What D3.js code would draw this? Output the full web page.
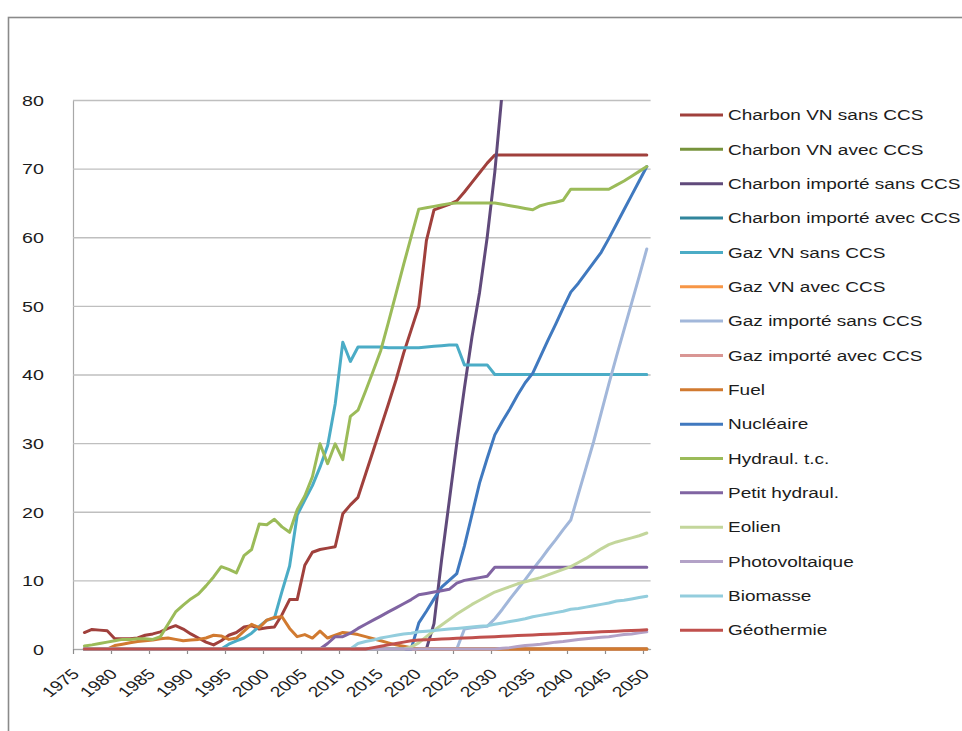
<!DOCTYPE html>
<html><head><meta charset="utf-8">
<script src="https://cdn.jsdelivr.net/npm/d3@7"></script>
<style>
body{margin:0;background:#fff}
svg{display:block}
text{font-family:"Liberation Sans",Arial,sans-serif;font-size:14.3px;fill:#1c1c1c}
</style></head><body>
<svg id="c" width="962" height="731"></svg>
<script>
// ---------- DATA ----------
const years = d3.range(1976, 2051); // categories 1976..2050
const xTickLabels = [1975,1980,1985,1990,1995,2000,2005,2010,2015,2020,2025,2030,2035,2040,2045,2050];
const yTickLabels = [0,10,20,30,40,50,60,70,80];

const seriesNames = ["Charbon VN sans CCS","Charbon VN avec CCS","Charbon importé sans CCS","Charbon importé avec CCS",
  "Gaz VN sans CCS","Gaz VN avec CCS","Gaz importé sans CCS","Gaz importé avec CCS","Fuel","Nucléaire",
  "Hydraul. t.c.","Petit hydraul.","Eolien","Photovoltaique","Biomasse","Géothermie"];
const seriesColors = ["#A0403C","#77933C","#604A7B","#31859C","#4BACC6","#F79646","#A2B7DA","#D99694",
  "#D17A30","#4079BF","#9BBB59","#8064A2","#C3D69B","#B3A2C7","#93CDDD","#C0504D"];

const charbonVNSans = [
 2.4,2.85,2.75,2.65,
 1.5,1.5,1.5,1.6,2.0,2.2,2.5,3.0,3.4,2.9,
 2.2,1.6,1.0,0.6,1.2,2.0,2.4,3.2,3.4,2.9,
 3.1,3.2,5.0,7.2,7.2,12.2,14.1,14.5,14.7,14.9,
 19.7,21.0,22.1,25.5,28.9,32.3,35.7,39.2,43.1,46.5,
 49.9,59.5,64.0,64.4,64.8,65.3,66.6,68.0,69.4,70.8,
 72,72,72,72,72,72,72,72,72,72,
 72,72,72,72,72,72,72,72,72,72,
 72];
const charbonVNAvec = [
 0,0,0,0,
 0,0,0,0,0,0,0,0,0,0,
 0,0,0,0,0,0,0,0,0,0,
 0,0,0,0,0,0,0,0,0,0,
 0,0,0,0,0,0,0,0,0,0,
 0,0,0,0,0,0,0,0,0,0,
 0,0,0,0,0,0,0,0,0,0,
 0,0,0,0,0,0,0,0,0,0,
 0];
const charbonImpSans = [
 0,0,0,0,
 0,0,0,0,0,0,0,0,0,0,
 0,0,0,0,0,0,0,0,0,0,
 0,0,0,0,0,0,0,0,0,0,
 0,0,0,0,0,0,0,0,0,0,
 0,0,3.7,13.0,21.5,30.0,38.0,45.5,52.0,60.0,
 69.5,81.5];
const charbonImpAvec = [
 0,0,0,0,
 0,0,0,0,0,0,0,0,0,0,
 0,0,0,0,0,0,0,0,0,0,
 0,0,0,0,0,0,0,0,0,0,
 0,0,0,0,0,0,0,0,0,0,
 0,0,0,0,0,0,0,0,0,0,
 0,0,0,0,0,0,0,0,0,0,
 0,0,0,0,0,0,0,0,0,0,
 0];
const gazVNSans = [
 0,0,0,0,
 0,0,0,0,0,0,0,0,0,0,
 0,0,0,0,0,0.7,1.2,1.6,2.3,3.3,
 4.2,4.5,8.4,12.1,19.5,21.7,23.8,26.5,29.6,35.7,
 44.7,41.9,44.0,44.0,44.0,44.0,43.9,43.9,43.9,43.9,
 43.9,44.0,44.1,44.2,44.3,44.3,41.4,41.4,41.4,41.4,
 40,40,40,40,40,40,40,40,40,40,
 40,40,40,40,40,40,40,40,40,40,
 40];
const gazVNAvec = [
 0,0,0,0,
 0,0,0,0,0,0,0,0,0,0,
 0,0,0,0,0,0,0,0,0,0,
 0,0,0,0,0,0,0,0,0,0,
 0,0,0,0,0,0,0,0,0,0,
 0,0,0,0,0,0,0,0,0,0,
 0,0,0,0,0,0,0,0,0,0,
 0,0,0,0,0,0,0,0,0,0,
 0];
const gazImpSans = [
 0,0,0,0,
 0,0,0,0,0,0,0,0,0,0,
 0,0,0,0,0,0,0,0,0,0,
 0,0,0,0,0,0,0,0,0,0,
 0,0,0,0,0,0,0,0,0,0,
 0,0,0,0,0,0,2.9,3.1,3.2,3.3,
 4.4,5.8,7.3,8.7,10.1,11.6,13.0,14.5,15.9,17.4,
 18.8,22.6,26.4,30.2,34.4,38.6,42.6,46.5,50.4,54.3,
 58.3];
const gazImpAvec = [
 0,0,0,0,
 0,0,0,0,0,0,0,0,0,0,
 0,0,0,0,0,0,0,0,0,0,
 0,0,0,0,0,0,0,0,0,0,
 0,0,0,0,0,0,0,0,0,0,
 0,0,0,0,0,0,0,0,0,0,
 0,0,0,0,0,0,0,0,0,0,
 0,0,0,0,0,0,0,0,0,0,
 0];
const fuel = [
 0,0,0,0,
 0.5,0.7,0.9,1.1,1.2,1.3,1.5,1.6,1.4,1.2,
 1.3,1.4,1.6,2.0,1.9,1.4,1.6,2.6,3.6,3.1,
 4.2,4.6,4.7,3.0,1.8,2.1,1.6,2.6,1.6,2.0,
 2.4,2.3,2.1,1.8,1.5,1.2,0.9,0.6,0.4,0.2,
 0,0,0,0,0,0,0,0,0,0,
 0,0,0,0,0,0,0,0,0,0,
 0,0,0,0,0,0,0,0,0,0,
 0];
const nucleaire = [
 0,0,0,0,
 0,0,0,0,0,0,0,0,0,0,
 0,0,0,0,0,0,0,0,0,0,
 0,0,0,0,0,0,0,0,0,0,
 0,0,0,0,0,0,0,0,0,0,
 3.8,5.5,7.3,9.0,10.0,11.0,15.0,19.6,24.2,27.8,
 31.2,33.2,35.0,37.0,38.8,40.2,42.6,45.0,47.3,49.7,
 52.0,53.3,54.8,56.3,57.8,59.8,61.9,64.0,66.1,68.2,
 70.3];
const hydraulTC = [
 0.45,0.6,0.8,1.0,
 1.2,1.4,1.4,1.5,1.5,1.4,1.8,3.6,5.4,6.4,
 7.3,8.0,9.2,10.5,12.0,11.6,11.1,13.6,14.5,18.2,
 18.1,18.9,17.8,17.0,20.3,22.3,25.1,29.9,27.0,29.9,
 27.6,33.9,34.8,37.6,40.5,43.5,47.6,51.8,56.0,60.1,
 64.1,64.3,64.5,64.7,64.9,65.0,65.0,65.0,65.0,65.0,
 65.0,64.8,64.6,64.4,64.2,64.0,64.6,64.9,65.1,65.4,
 67.0,67.0,67.0,67.0,67.0,67.0,67.6,68.2,68.9,69.6,
 70.3];
const petitHydraul = [
 0,0,0,0,
 0,0,0,0,0,0,0,0,0,0,
 0,0,0,0,0,0,0,0,0,0,
 0,0,0,0,0,0,0,0,0.8,1.8,
 1.8,2.3,3.0,3.6,4.2,4.8,5.4,6.0,6.6,7.2,
 7.9,8.1,8.3,8.5,8.7,9.6,10.0,10.2,10.4,10.6,
 11.9,11.9,11.9,11.9,11.9,11.9,11.9,11.9,11.9,11.9,
 11.9,11.9,11.9,11.9,11.9,11.9,11.9,11.9,11.9,11.9,
 11.9];
const eolien = [
 0,0,0,0,
 0,0,0,0,0,0,0,0,0,0,
 0,0,0,0,0,0,0,0,0,0,
 0,0,0,0,0,0,0,0,0,0,
 0,0,0,0,0,0,0,0,0,0.3,
 0.9,1.8,2.7,3.5,4.3,5.1,5.8,6.5,7.1,7.7,
 8.3,8.7,9.1,9.5,9.8,10.1,10.4,10.8,11.2,11.6,
 12.0,12.6,13.2,13.9,14.6,15.2,15.6,15.9,16.2,16.5,
 16.9];
const photovoltaique = [
 0,0,0,0,
 0,0,0,0,0,0,0,0,0,0,
 0,0,0,0,0,0,0,0,0,0,
 0,0,0,0,0,0,0,0,0,0,
 0,0,0,0,0,0,0,0,0,0,
 0,0,0,0,0,0,0,0,0,0,
 0,0.1,0.2,0.35,0.5,0.6,0.7,0.85,1.0,1.1,
 1.25,1.4,1.5,1.6,1.7,1.8,1.95,2.1,2.2,2.35,
 2.5];
const biomasse = [
 0,0,0,0,
 0,0,0,0,0,0,0,0,0,0,
 0,0,0,0,0,0,0,0,0,0,
 0,0,0,0,0,0,0,0,0,0,
 0,0,0.8,1.1,1.3,1.6,1.8,2.0,2.2,2.3,
 2.5,2.6,2.7,2.8,2.9,3.0,3.1,3.2,3.3,3.4,
 3.6,3.8,4.0,4.2,4.4,4.7,4.9,5.1,5.3,5.5,
 5.8,5.9,6.1,6.3,6.5,6.7,7.0,7.1,7.3,7.5,
 7.7];
const geothermie = [
 0,0,0,0,
 0,0,0,0,0,0,0,0,0,0,
 0,0,0,0,0,0,0,0,0,0,
 0,0,0,0,0,0,0,0,0,0,
 0,0,0,0,0.2,0.4,0.6,0.8,1.0,1.2,
 1.3,1.35,1.4,1.45,1.5,1.55,1.6,1.65,1.7,1.75,
 1.8,1.85,1.9,1.95,2.0,2.05,2.1,2.15,2.2,2.25,
 2.3,2.35,2.4,2.45,2.5,2.55,2.6,2.65,2.7,2.75,
 2.8];

const seriesValues = [charbonVNSans,charbonVNAvec,charbonImpSans,charbonImpAvec,gazVNSans,gazVNAvec,
  gazImpSans,gazImpAvec,fuel,nucleaire,hydraulTC,petitHydraul,eolien,photovoltaique,biomasse,geothermie];

// ---------- CHART ----------
const svg = d3.select('#c');
const SX = 1.33; // horizontal stretch of text

svg.append('rect').attr('x',8.5).attr('y',17.5).attr('width',1000).attr('height',1000)
  .attr('fill','#fff').attr('stroke','#8a8a8a').attr('stroke-width',1.6);

const plotL = 73, plotR = 650.6, plotT = 100, plotB = 649;
const x = d3.scaleLinear().domain([1975, 2051]).range([plotL, plotR]);
const y = d3.scaleLinear().domain([0, 80]).range([plotB, plotT]);

// Y axis + gridlines
const gy = svg.append('g').attr('transform',`translate(${plotL},0)`)
  .call(d3.axisLeft(y).tickValues(yTickLabels).tickSize(-(plotR-plotL)).tickSizeOuter(0).tickFormat(d3.format('d')));
gy.select('.domain').attr('stroke','#a8a8a8').attr('stroke-width',1.2);
gy.selectAll('.tick line').attr('stroke','#bfbfbf').attr('stroke-width',1.3);
gy.selectAll('.tick text').attr('x',0).attr('dy','0.36em').attr('text-anchor','end')
  .attr('transform',`translate(-29,0) scale(${SX},1)`)
  .style('font-family','"Liberation Sans",Arial,sans-serif').style('font-size','14.8px').style('fill','#1c1c1c');

// X axis
const gx = svg.append('g').attr('transform',`translate(0,${plotB})`)
  .call(d3.axisBottom(x).tickValues(xTickLabels).tickSize(5).tickSizeOuter(0).tickFormat(d3.format('d')));
gx.select('.domain').attr('stroke','#a8a8a8').attr('stroke-width',1.2);
gx.selectAll('.tick line').attr('stroke','#8c8c8c').attr('stroke-width',1.2);
gx.selectAll('.tick text').attr('x',0).attr('y',0).attr('dy',0).attr('text-anchor','end')
  .attr('transform',`translate(7,26) scale(${SX},1) rotate(-45)`)
  .style('font-family','"Liberation Sans",Arial,sans-serif').style('font-size','14.6px').style('fill','#1c1c1c');

// clip
svg.append('clipPath').attr('id','clip').append('rect')
  .attr('x',plotL-10).attr('y',plotT).attr('width',plotR-plotL+20).attr('height',plotB-plotT+20);

const line = d3.line()
  .defined(d => d.v != null)
  .x(d => x(d.year + 0.5))
  .y(d => y(d.v));

const gl = svg.append('g').attr('clip-path','url(#clip)');
seriesValues.forEach((vals, i) => {
  const pts = vals.map((v, k) => ({year: years[k], v}));
  gl.append('path').datum(pts)
    .attr('d', line)
    .attr('fill','none')
    .attr('stroke', seriesColors[i])
    .attr('stroke-width', 3)
    .attr('stroke-linejoin','round')
    .attr('stroke-linecap','round');
});

// Legend
const lg = svg.append('g');
seriesNames.forEach((name, i) => {
  const yy = 115 + i * 34.35;
  lg.append('line').attr('x1',680).attr('x2',723).attr('y1',yy).attr('y2',yy)
    .attr('stroke', seriesColors[i]).attr('stroke-width',3);
  lg.append('text').attr('transform',`translate(728,${yy}) scale(${SX},1)`)
    .attr('dy','0.36em').text(name);
});
</script>
</body></html>
